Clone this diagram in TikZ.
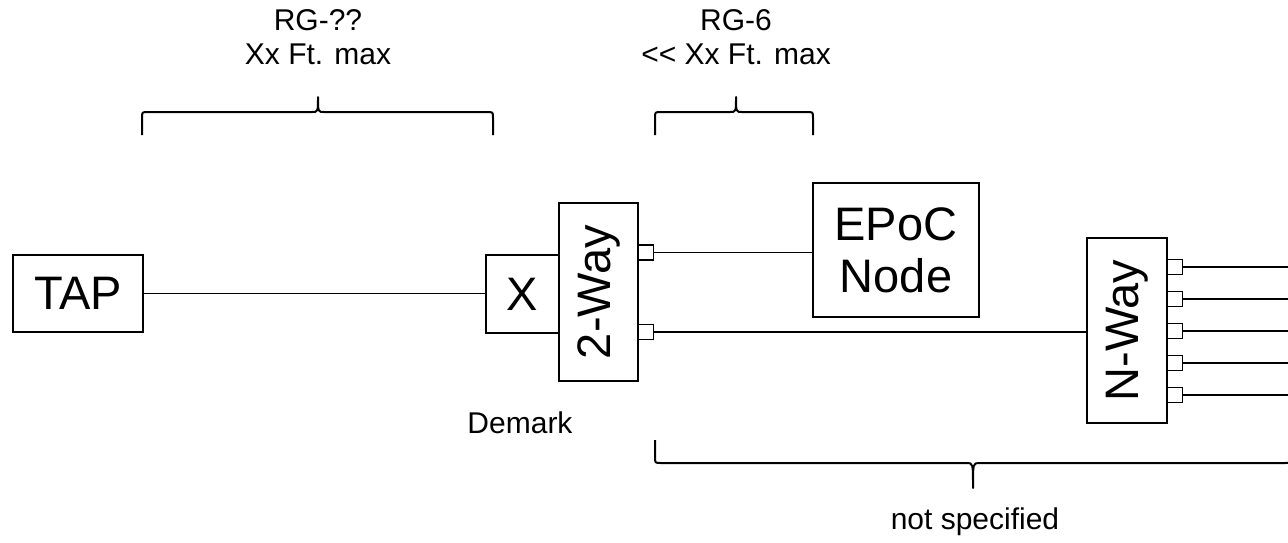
\documentclass[tikz,border=0pt]{standalone}
\usepackage{fontspec}
\setmainfont{Liberation Sans}
\begin{document}
\begin{tikzpicture}[x=1pt,y=-1pt,
  box/.style={draw,line width=2pt,inner sep=0pt,font=\fontsize{47}{52}\selectfont,align=center},
  port/.style={draw,line width=1.7pt,inner sep=0pt,minimum width=15pt,minimum height=15pt},
  wire/.style={line width=1.4pt},
  brace/.style={line width=2pt,line join=round},
  lbl/.style={inner sep=0pt,font=\fontsize{30}{34}\selectfont,align=center}]
\clip (0,0) rectangle (1288,542);
\fill[white] (0,0) rectangle (1288,542);
% boxes
\node[box,minimum width=130pt,minimum height=77pt] (tap) at (78,293.5) {TAP};
\node[box,minimum width=73pt,minimum height=78pt] (x) at (522.5,294) {X};
\node[box,minimum width=79pt,minimum height=178pt] (two) at (598.5,292) {\rotatebox{90}{2-Way}};
\node[box,minimum width=166pt,minimum height=134pt] (epoc) at (896,250) {EPoC\\Node};
\node[box,minimum width=80pt,minimum height=185pt] (nway) at (1127,330.5) {\rotatebox{90}{N-Way}};
% ports
\node[port] (p1) at (646,252.5) {};
\node[port] (p2) at (646,332) {};
\foreach \i/\yy in {1/267,2/299,3/331,4/363,5/395}{
  \node[port] (n\i) at (1175,\yy) {};
  \coordinate (e\i) at (1290,\yy);
  \draw[wire] (n\i.east) -- (e\i);
}
% wires
\draw[wire] (tap.east) -- (tap.east -| x.west);
\draw[wire] (p1.east) -- (p1.east -| epoc.west);
\draw[wire] (p2.east) -- (p2.east -| nway.west);
% braces
\draw[brace] (142,135) -- (142,118) .. controls (142,112) .. (148,112) -- (312,112) .. controls (318,112) .. (318,97) .. controls (318,112) .. (324,112) -- (487,112) .. controls (493,112) .. (493,118) -- (493,135);
\draw[brace] (655,135) -- (655,118) .. controls (655,112) .. (661,112) -- (730,112) .. controls (736,112) .. (736,97) .. controls (736,112) .. (742,112) -- (807,112) .. controls (813,112) .. (813,118) -- (813,135);
\draw[brace] (655,440) -- (655,457) .. controls (655,463) .. (661,463) -- (967,463) .. controls (973,463) .. (973,488) .. controls (973,463) .. (979,463) -- (1285,463) .. controls (1291,463) .. (1291,457) -- (1291,440);
% labels
\node[lbl] (l1) at (318,37) {RG-??\\Xx Ft. max};
\node[lbl] (l2) at (736,37) {RG-6\\{<}{<} Xx Ft. max};
\node[lbl] (dm) at (520,423) {Demark};
\node[lbl] (ns) at (975,522) {not specified};
\end{tikzpicture}
\end{document}
